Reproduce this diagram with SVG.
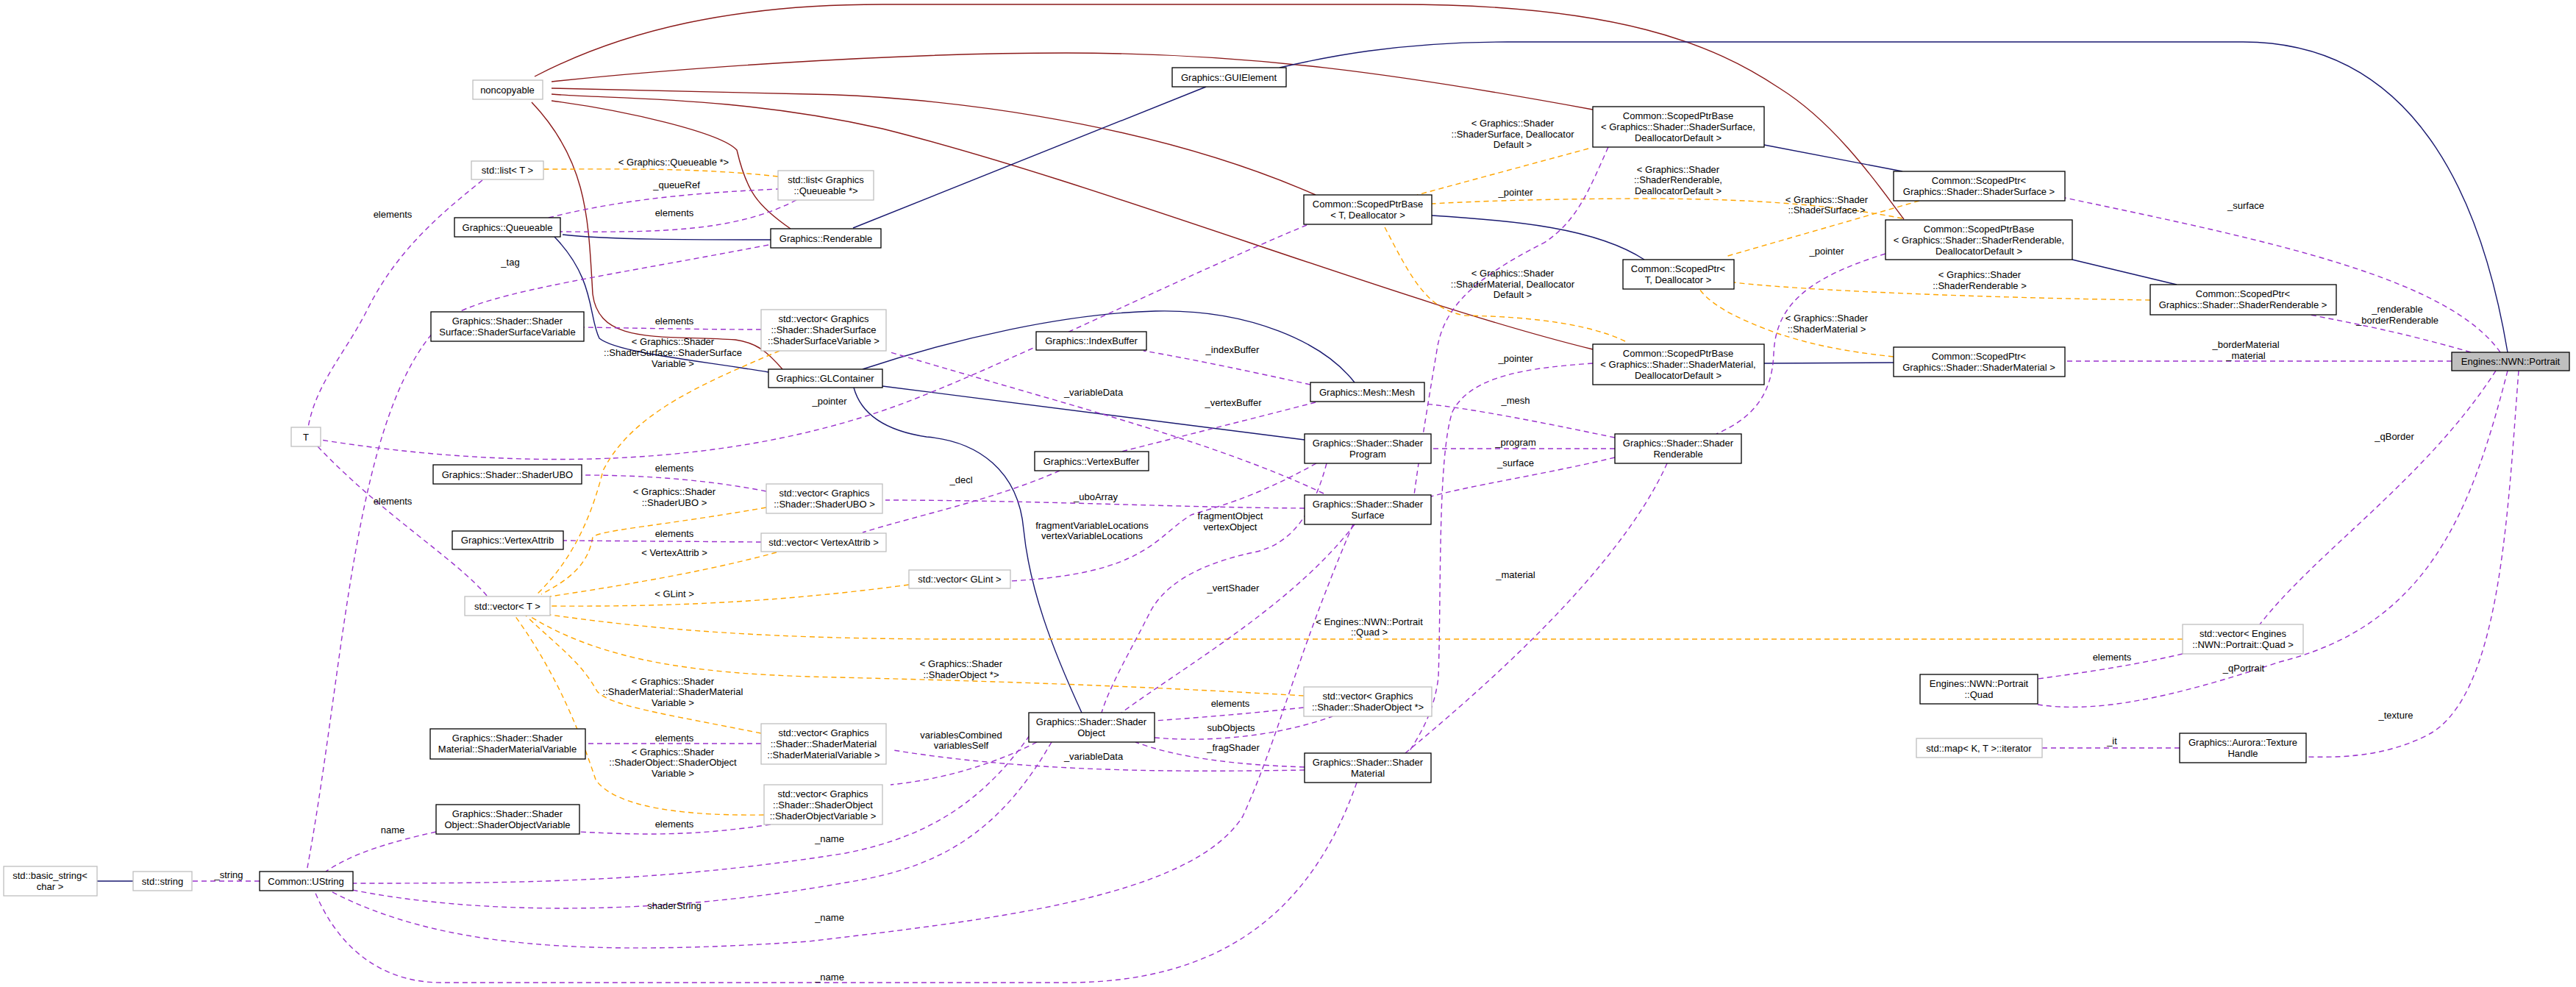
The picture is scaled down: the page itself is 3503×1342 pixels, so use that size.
<svg xmlns="http://www.w3.org/2000/svg" width="3503" height="1342" viewBox="0 0 3503 1342">
<style>
text{font-family:"Liberation Sans",Arial,sans-serif;font-size:13px;fill:#000;text-anchor:middle}
.n rect{fill:#fff;stroke:#000;stroke-width:1.3}
.g rect{fill:#fff;stroke:#bfbfbf;stroke-width:1.3}
.p rect{fill:#bfbfbf;stroke:#000;stroke-width:1.3}
path{fill:none}
.inh{stroke:#191970;stroke-width:1.4;marker-end:url(#mb)}
.prv{stroke:#8b1a1a;stroke-width:1.4;marker-end:url(#mr)}
.use{stroke:#9a32cd;stroke-width:1.4;stroke-dasharray:7,5;marker-end:url(#mp)}
.tpl{stroke:#ffa500;stroke-width:1.4;stroke-dasharray:7,5;marker-end:url(#mo)}
</style>
<defs>
<marker id="mb" viewBox="0 0 10 10" refX="10" refY="5" markerWidth="14" markerHeight="11" markerUnits="userSpaceOnUse" orient="auto"><path d="M0,0.5L10,5L0,9.5z" fill="#191970"/></marker>
<marker id="mr" viewBox="0 0 10 10" refX="10" refY="5" markerWidth="14" markerHeight="11" markerUnits="userSpaceOnUse" orient="auto"><path d="M0,0.5L10,5L0,9.5z" fill="#8b1a1a"/></marker>
<marker id="mp" viewBox="0 0 10 10" refX="10" refY="5" markerWidth="14" markerHeight="11" markerUnits="userSpaceOnUse" orient="auto"><path d="M0,0.5L10,5L0,9.5z" fill="#9a32cd"/></marker>
<marker id="mo" viewBox="0 0 10 10" refX="10" refY="5" markerWidth="14" markerHeight="11" markerUnits="userSpaceOnUse" orient="auto"><path d="M0,0.5L10,5L0,9.5z" fill="#ffa500"/></marker>
</defs>
<rect width="3503" height="1342" fill="#fff"/>
<g id="edges">
<!-- private inheritance to noncopyable -->
<path class="prv" d="M2589,298 C2560,260 2500,170 2420,120 C2330,60 2200,6 1900,6 L1200,6 C1000,6 850,40 727,104"/>
<path class="prv" d="M2166,149 C1900,100 1700,72 1450,72 C1200,72 900,95 750,111"/>
<path class="prv" d="M1789,265 C1550,160 1250,130 1100,128 C950,125 800,121 750,120"/>
<path class="prv" d="M2166,475 C1900,410 1500,250 1200,175 C1000,130 830,135 750,128"/>
<path class="prv" d="M1075,311 C1030,280 1015,260 1002,204 C980,180 850,150 750,137"/>
<path class="prv" d="M1064,502 C1045,480 1030,466 1000,462 C900,455 815,470 806,400 C800,300 800,220 723,139"/>
<!-- public inheritance -->
<path class="inh" d="M3410,479 C3380,300 3300,57 3050,57 L2050,57 C1900,57 1800,78 1740,92"/>
<path class="inh" d="M1640,118 L1160,310"/>
<path class="inh" d="M1048,326 C950,326 820,326 765,319"/>
<path class="inh" d="M1045,506 C950,490 840,480 815,460 C800,430 810,380 754,322"/>
<path class="inh" d="M1842,520 C1800,466 1700,420 1571,423 C1450,426 1300,460 1173,502"/>
<path class="inh" d="M1774,598 L1200,525"/>
<path class="inh" d="M1471,969 C1430,880 1400,800 1392,720 C1385,640 1330,600 1260,594 C1200,585 1170,560 1161,527"/>
<path class="inh" d="M2236,353 C2170,310 2060,300 1947,293"/>
<path class="inh" d="M2587,233 L2399,197"/>
<path class="inh" d="M2960,387 L2818,353"/>
<path class="inh" d="M2575,493 L2399,494"/>
<path class="inh" d="M181,1198 L132,1198"/>
<!-- template instances -->
<path class="tpl" d="M1058,240 C950,228 850,230 739,230"/>
<path class="tpl" d="M2160,202 L1927,265"/>
<path class="tpl" d="M2587,297 C2500,280 2400,271 2250,270 C2100,270 2000,274 1947,277"/>
<path class="tpl" d="M2210,464 C2150,435 2050,430 1992,429 C1940,420 1920,380 1881,305"/>
<path class="tpl" d="M2610,273 L2346,349"/>
<path class="tpl" d="M2924,408 C2700,405 2450,395 2358,384"/>
<path class="tpl" d="M2575,485 C2480,475 2440,460 2422,455 C2380,440 2330,420 2311,393"/>
<path class="tpl" d="M1060,477 C960,520 860,560 820,640 C805,700 780,760 730,808"/>
<path class="tpl" d="M1042,690 C900,715 820,720 806,730 C800,770 770,790 736,808"/>
<path class="tpl" d="M1056,751 C950,780 820,800 748,811"/>
<path class="tpl" d="M1236,795 C1050,820 900,825 748,824"/>
<path class="tpl" d="M2968,869 L1300,869 C1000,869 850,850 748,836"/>
<path class="tpl" d="M1773,946 C1500,930 1300,925 1100,920 C950,915 820,900 719,837"/>
<path class="tpl" d="M1035,997 C900,970 830,960 812,940 C790,900 760,880 715,837"/>
<path class="tpl" d="M1039,1108 C900,1110 830,1090 810,1060 C790,1000 760,920 700,837"/>
<!-- usage -->
<path class="use" d="M656,245 C600,290 540,340 500,420 C470,480 430,520 419,581"/>
<path class="use" d="M662,810 C620,760 520,700 432,607"/>
<path class="use" d="M746,296 C850,270 950,262 1058,257"/>
<path class="use" d="M1083,272 C1000,315 900,316 762,315"/>
<path class="use" d="M1045,333 C800,380 640,400 600,440 C480,560 470,900 417,1185"/>
<path class="use" d="M1035,448 C950,448 860,446 794,445"/>
<path class="use" d="M1777,306 C1600,380 1400,480 1250,540 C1000,640 700,640 436,598"/>
<path class="use" d="M1042,668 C950,650 860,646 791,646"/>
<path class="use" d="M1035,737 L766,735"/>
<path class="use" d="M1035,1011 L796,1011"/>
<path class="use" d="M1048,1121 C950,1136 880,1136 788,1131"/>
<path class="use" d="M593,1131 C530,1145 480,1160 443,1185"/>
<path class="use" d="M353,1198 L261,1198"/>
<path class="use" d="M1782,523 C1700,505 1620,488 1555,477"/>
<path class="use" d="M1789,547 C1700,570 1600,595 1525,614"/>
<path class="use" d="M1441,640 C1350,680 1250,700 1173,724"/>
<path class="use" d="M1800,671 C1650,600 1450,550 1211,479"/>
<path class="use" d="M1774,691 C1600,690 1400,680 1204,680"/>
<path class="use" d="M1790,630 C1700,680 1650,690 1620,700 C1570,730 1560,780 1374,790"/>
<path class="use" d="M1804,630 C1780,720 1740,745 1700,752 C1620,770 1580,800 1563,834 C1540,880 1510,930 1498,969"/>
<path class="use" d="M1842,713 C1760,820 1620,900 1525,969"/>
<path class="use" d="M1774,1043 C1680,1040 1600,1030 1544,1009"/>
<path class="use" d="M1570,1003 C1650,1010 1740,1000 1812,974"/>
<path class="use" d="M1773,962 C1700,970 1640,975 1570,980"/>
<path class="use" d="M1410,1009 C1350,1040 1280,1060 1211,1067"/>
<path class="use" d="M1774,1047 C1600,1050 1400,1050 1215,1020"/>
<path class="use" d="M1400,1000 C1330,1100 1250,1140 1150,1160 C900,1200 700,1201 480,1201"/>
<path class="use" d="M1430,1009 C1360,1130 1280,1180 1150,1200 C900,1245 650,1245 474,1209"/>
<path class="use" d="M1840,713 C1760,900 1740,1000 1690,1110 C1620,1220 1350,1250 1100,1280 C800,1300 600,1290 450,1212"/>
<path class="use" d="M1845,1064 C1780,1250 1650,1336 1450,1336 L600,1336 C520,1336 460,1290 428,1212"/>
<path class="use" d="M2196,595 C2100,575 2000,555 1937,549"/>
<path class="use" d="M2196,610 L1946,610"/>
<path class="use" d="M2196,622 C2100,645 2000,660 1946,675"/>
<path class="use" d="M2267,630 C2200,780 2000,950 1911,1024"/>
<path class="use" d="M2187,200 C2160,260 2145,300 2100,330 C2000,380 1965,420 1955,470 C1940,560 1930,620 1923,673"/>
<path class="use" d="M2166,494 C2080,500 2000,510 1975,560 C1955,620 1960,800 1956,921 C1950,970 1930,1000 1915,1024"/>
<path class="use" d="M2564,345 C2450,380 2415,420 2412,480 C2410,540 2380,570 2334,590"/>
<path class="use" d="M3400,479 C3330,380 3100,330 2808,269"/>
<path class="use" d="M3360,479 C3260,450 3200,440 3142,428"/>
<path class="use" d="M3334,491 L2808,491"/>
<path class="use" d="M3394,504 C3300,650 3150,750 3073,849"/>
<path class="use" d="M3410,504 C3360,700 3300,850 3100,900 C2950,950 2850,970 2771,958"/>
<path class="use" d="M3425,504 C3410,700 3400,950 3300,1000 C3240,1030 3180,1030 3136,1029"/>
<path class="use" d="M2968,889 C2900,905 2830,915 2771,923"/>
<path class="use" d="M2964,1017 L2777,1017"/>
</g>
<g id="labels">
<text x="916" y="225">&lt; Graphics::Queueable *&gt;</text>
<text x="920" y="256">_queueRef</text>
<text x="917" y="294">elements</text>
<text x="534" y="296">elements</text>
<text x="694" y="361">_tag</text>
<text x="917" y="441">elements</text>
<text x="915" y="469">&lt; Graphics::Shader</text>
<text x="915" y="484">::ShaderSurface::ShaderSurface</text>
<text x="915" y="499">Variable &gt;</text>
<text x="1128" y="550">_pointer</text>
<text x="917" y="641">elements</text>
<text x="917" y="673">&lt; Graphics::Shader</text>
<text x="917" y="688">::ShaderUBO &gt;</text>
<text x="534" y="686">elements</text>
<text x="917" y="730">elements</text>
<text x="917" y="756">&lt; VertexAttrib &gt;</text>
<text x="917" y="812">&lt; GLint &gt;</text>
<text x="915" y="931">&lt; Graphics::Shader</text>
<text x="915" y="945">::ShaderMaterial::ShaderMaterial</text>
<text x="915" y="960">Variable &gt;</text>
<text x="917" y="1008">elements</text>
<text x="915" y="1027">&lt; Graphics::Shader</text>
<text x="915" y="1041">::ShaderObject::ShaderObject</text>
<text x="915" y="1056">Variable &gt;</text>
<text x="917" y="1125">elements</text>
<text x="534" y="1133">name</text>
<text x="1128" y="1145">_name</text>
<text x="311" y="1194">_string</text>
<text x="917" y="1236">shaderString</text>
<text x="1128" y="1252">_name</text>
<text x="1128" y="1333">_name</text>
<text x="2057" y="172">&lt; Graphics::Shader</text>
<text x="2057" y="187">::ShaderSurface, Deallocator</text>
<text x="2057" y="201">Default &gt;</text>
<text x="2282" y="235">&lt; Graphics::Shader</text>
<text x="2282" y="249">::ShaderRenderable,</text>
<text x="2282" y="264">DeallocatorDefault &gt;</text>
<text x="2061" y="266">_pointer</text>
<text x="2057" y="376">&lt; Graphics::Shader</text>
<text x="2057" y="391">::ShaderMaterial, Deallocator</text>
<text x="2057" y="405">Default &gt;</text>
<text x="2061" y="492">_pointer</text>
<text x="1676" y="480">_indexBuffer</text>
<text x="1487" y="538">_variableData</text>
<text x="1677" y="552">_vertexBuffer</text>
<text x="2061" y="549">_mesh</text>
<text x="2061" y="606">_program</text>
<text x="2061" y="634">_surface</text>
<text x="1307" y="657">_decl</text>
<text x="1490" y="680">_uboArray</text>
<text x="1485" y="719">fragmentVariableLocations</text>
<text x="1485" y="733">vertexVariableLocations</text>
<text x="1673" y="706">fragmentObject</text>
<text x="1673" y="721">vertexObject</text>
<text x="1677" y="804">_vertShader</text>
<text x="2061" y="786">_material</text>
<text x="1862" y="850">&lt; Engines::NWN::Portrait</text>
<text x="1862" y="864">::Quad &gt;</text>
<text x="1307" y="907">&lt; Graphics::Shader</text>
<text x="1307" y="922">::ShaderObject *&gt;</text>
<text x="1673" y="961">elements</text>
<text x="1674" y="994">subObjects</text>
<text x="1677" y="1021">_fragShader</text>
<text x="1307" y="1004">variablesCombined</text>
<text x="1307" y="1018">variablesSelf</text>
<text x="1487" y="1033">_variableData</text>
<text x="2484" y="276">&lt; Graphics::Shader</text>
<text x="2484" y="290">::ShaderSurface &gt;</text>
<text x="2484" y="346">_pointer</text>
<text x="3054" y="284">_surface</text>
<text x="2692" y="378">&lt; Graphics::Shader</text>
<text x="2692" y="393">::ShaderRenderable &gt;</text>
<text x="3260" y="425">_renderable</text>
<text x="3260" y="440">_borderRenderable</text>
<text x="2484" y="437">&lt; Graphics::Shader</text>
<text x="2484" y="452">::ShaderMaterial &gt;</text>
<text x="3054" y="473">_borderMaterial</text>
<text x="3054" y="488">_material</text>
<text x="3256" y="598">_qBorder</text>
<text x="2872" y="898">elements</text>
<text x="3051" y="913">_qPortrait</text>
<text x="3258" y="977">_texture</text>
<text x="2872" y="1012">_it</text>
</g>
<g id="noncopyable" class="g"><rect x="643" y="109" width="95" height="26"/><text x="690" y="127">noncopyable</text></g>
<g id="listT" class="g"><rect x="641" y="219" width="98" height="25"/><text x="690" y="236">std::list&lt; T &gt;</text></g>
<g id="listQ" class="g"><rect x="1058" y="232" width="130" height="40"/><text x="1123" y="249">std::list&lt; Graphics</text><text x="1123" y="264">::Queueable *&gt;</text></g>
<g id="queueable" class="n"><rect x="618" y="296" width="144" height="26"/><text x="690" y="314">Graphics::Queueable</text></g>
<g id="renderable" class="n"><rect x="1048" y="311" width="150" height="26"/><text x="1123" y="329">Graphics::Renderable</text></g>
<g id="ssv" class="n"><rect x="586" y="424" width="208" height="40"/><text x="690" y="441">Graphics::Shader::Shader</text><text x="690" y="456">Surface::ShaderSurfaceVariable</text></g>
<g id="vssv" class="g"><rect x="1035" y="421" width="170" height="56"/><text x="1120" y="438">std::vector&lt; Graphics</text><text x="1120" y="453">::Shader::ShaderSurface</text><text x="1120" y="468">::ShaderSurfaceVariable &gt;</text></g>
<g id="glcontainer" class="n"><rect x="1045" y="502" width="155" height="25"/><text x="1122" y="519">Graphics::GLContainer</text></g>
<g id="T" class="g"><rect x="396" y="581" width="40" height="26"/><text x="416" y="599">T</text></g>
<g id="ubo" class="n"><rect x="589" y="632" width="202" height="26"/><text x="690" y="650">Graphics::Shader::ShaderUBO</text></g>
<g id="vubo" class="g"><rect x="1042" y="658" width="158" height="40"/><text x="1121" y="675">std::vector&lt; Graphics</text><text x="1121" y="690">::Shader::ShaderUBO &gt;</text></g>
<g id="vattr" class="n"><rect x="615" y="722" width="151" height="25"/><text x="690" y="739">Graphics::VertexAttrib</text></g>
<g id="vvattr" class="g"><rect x="1035" y="725" width="170" height="25"/><text x="1120" y="742">std::vector&lt; VertexAttrib &gt;</text></g>
<g id="vT" class="g"><rect x="632" y="811" width="116" height="26"/><text x="690" y="829">std::vector&lt; T &gt;</text></g>
<g id="smv" class="n"><rect x="585" y="991" width="211" height="41"/><text x="690" y="1008">Graphics::Shader::Shader</text><text x="690" y="1023">Material::ShaderMaterialVariable</text></g>
<g id="vsmv" class="g"><rect x="1035" y="984" width="170" height="55"/><text x="1120" y="1001">std::vector&lt; Graphics</text><text x="1120" y="1016">::Shader::ShaderMaterial</text><text x="1120" y="1031">::ShaderMaterialVariable &gt;</text></g>
<g id="vsov" class="g"><rect x="1039" y="1067" width="161" height="54"/><text x="1119" y="1084">std::vector&lt; Graphics</text><text x="1119" y="1099">::Shader::ShaderObject</text><text x="1119" y="1114">::ShaderObjectVariable &gt;</text></g>
<g id="sov" class="n"><rect x="593" y="1094" width="195" height="40"/><text x="690" y="1111">Graphics::Shader::Shader</text><text x="690" y="1126">Object::ShaderObjectVariable</text></g>
<g id="basicstring" class="g"><rect x="5" y="1178" width="127" height="40"/><text x="68" y="1195">std::basic_string&lt;</text><text x="68" y="1210">char &gt;</text></g>
<g id="stdstring" class="g"><rect x="181" y="1185" width="80" height="26"/><text x="221" y="1203">std::string</text></g>
<g id="ustring" class="n"><rect x="353" y="1185" width="127" height="26"/><text x="416" y="1203">Common::UString</text></g>
<g id="guielement" class="n"><rect x="1594" y="92" width="155" height="26"/><text x="1671" y="110">Graphics::GUIElement</text></g>
<g id="spbSurf" class="n"><rect x="2166" y="145" width="233" height="55"/><text x="2282" y="162">Common::ScopedPtrBase</text><text x="2282" y="177">&lt; Graphics::Shader::ShaderSurface,</text><text x="2282" y="192">DeallocatorDefault &gt;</text></g>
<g id="spbT" class="n"><rect x="1773" y="265" width="174" height="40"/><text x="1860" y="282">Common::ScopedPtrBase</text><text x="1860" y="297">&lt; T, Deallocator &gt;</text></g>
<g id="spT" class="n"><rect x="2207" y="353" width="151" height="40"/><text x="2282" y="370">Common::ScopedPtr&lt;</text><text x="2282" y="385">T, Deallocator &gt;</text></g>
<g id="spbMat" class="n"><rect x="2166" y="468" width="233" height="55"/><text x="2282" y="485">Common::ScopedPtrBase</text><text x="2282" y="500">&lt; Graphics::Shader::ShaderMaterial,</text><text x="2282" y="515">DeallocatorDefault &gt;</text></g>
<g id="indexbuffer" class="n"><rect x="1409" y="451" width="150" height="25"/><text x="1484" y="468">Graphics::IndexBuffer</text></g>
<g id="mesh" class="n"><rect x="1782" y="520" width="155" height="26"/><text x="1859" y="538">Graphics::Mesh::Mesh</text></g>
<g id="program" class="n"><rect x="1774" y="590" width="172" height="40"/><text x="1860" y="607">Graphics::Shader::Shader</text><text x="1860" y="622">Program</text></g>
<g id="shaderrenderable" class="n"><rect x="2196" y="590" width="172" height="40"/><text x="2282" y="607">Graphics::Shader::Shader</text><text x="2282" y="622">Renderable</text></g>
<g id="vertexbuffer" class="n"><rect x="1407" y="614" width="155" height="26"/><text x="1484" y="632">Graphics::VertexBuffer</text></g>
<g id="shadersurface" class="n"><rect x="1774" y="673" width="172" height="40"/><text x="1860" y="690">Graphics::Shader::Shader</text><text x="1860" y="705">Surface</text></g>
<g id="vglint" class="g"><rect x="1236" y="775" width="138" height="25"/><text x="1305" y="792">std::vector&lt; GLint &gt;</text></g>
<g id="vsobj" class="g"><rect x="1773" y="934" width="174" height="40"/><text x="1860" y="951">std::vector&lt; Graphics</text><text x="1860" y="966">::Shader::ShaderObject *&gt;</text></g>
<g id="shaderobject" class="n"><rect x="1399" y="969" width="171" height="40"/><text x="1484" y="986">Graphics::Shader::Shader</text><text x="1484" y="1001">Object</text></g>
<g id="shadermaterial" class="n"><rect x="1774" y="1024" width="172" height="40"/><text x="1860" y="1041">Graphics::Shader::Shader</text><text x="1860" y="1056">Material</text></g>
<g id="spSurf" class="n"><rect x="2575" y="233" width="233" height="40"/><text x="2691" y="250">Common::ScopedPtr&lt;</text><text x="2691" y="265">Graphics::Shader::ShaderSurface &gt;</text></g>
<g id="spbRend" class="n"><rect x="2564" y="299" width="254" height="54"/><text x="2691" y="316">Common::ScopedPtrBase</text><text x="2691" y="331">&lt; Graphics::Shader::ShaderRenderable,</text><text x="2691" y="346">DeallocatorDefault &gt;</text></g>
<g id="spRend" class="n"><rect x="2924" y="387" width="253" height="41"/><text x="3050" y="404">Common::ScopedPtr&lt;</text><text x="3050" y="419">Graphics::Shader::ShaderRenderable &gt;</text></g>
<g id="spMat" class="n"><rect x="2575" y="472" width="233" height="40"/><text x="2691" y="489">Common::ScopedPtr&lt;</text><text x="2691" y="504">Graphics::Shader::ShaderMaterial &gt;</text></g>
<g id="portrait" class="p"><rect x="3334" y="479" width="160" height="25"/><text x="3414" y="496">Engines::NWN::Portrait</text></g>
<g id="vquad" class="g"><rect x="2968" y="849" width="164" height="40"/><text x="3050" y="866">std::vector&lt; Engines</text><text x="3050" y="881">::NWN::Portrait::Quad &gt;</text></g>
<g id="quad" class="n"><rect x="2611" y="917" width="160" height="40"/><text x="2691" y="934">Engines::NWN::Portrait</text><text x="2691" y="949">::Quad</text></g>
<g id="mapit" class="g"><rect x="2606" y="1004" width="171" height="26"/><text x="2691" y="1022">std::map&lt; K, T &gt;::iterator</text></g>
<g id="texturehandle" class="n"><rect x="2964" y="997" width="172" height="40"/><text x="3050" y="1014">Graphics::Aurora::Texture</text><text x="3050" y="1029">Handle</text></g>
</svg>
